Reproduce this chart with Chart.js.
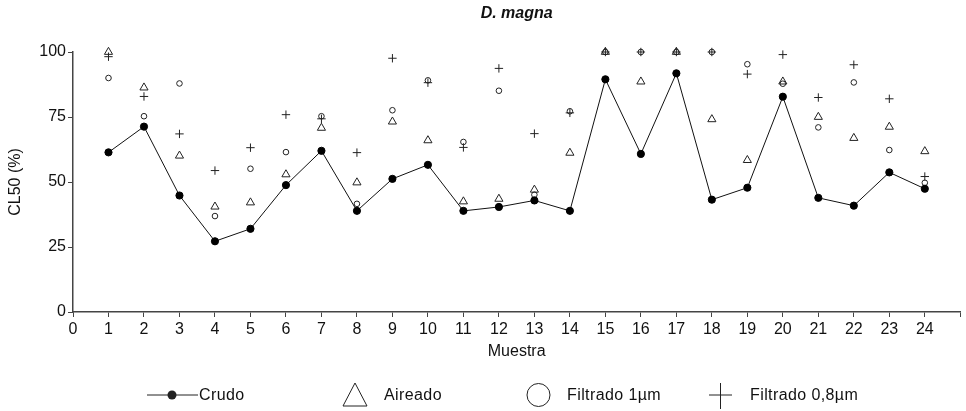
<!DOCTYPE html>
<html>
<head>
<meta charset="utf-8">
<script src="https://cdn.jsdelivr.net/npm/chart.js@4.4.1/dist/chart.umd.min.js"></script>
<style>
  html, body { margin: 0; padding: 0; background: #fff; }
  #wrap { width: 966px; height: 411px; }
</style>
</head>
<body>
<div id="wrap"><canvas id="c" width="966" height="411"></canvas></div>
<script>
// ---- data ----
const muestras   = [1,2,3,4,5,6,7,8,9,10,11,12,13,14,15,16,17,18,19,20,21,22,23,24];
const crudo      = [61.4,71.3,44.8,27.2,32.0,48.8,62.0,38.9,51.2,56.6,38.9,40.4,42.9,38.9,89.5,60.8,91.8,43.2,47.8,82.8,43.9,40.9,53.7,47.4];
const aireado    = [100,86.3,60.1,40.5,42.1,52.9,70.8,49.8,73.2,66.0,42.5,43.5,47.0,61.2,100,88.6,100,74.1,58.4,88.6,75.0,66.9,71.2,61.8];
const filtrado1  = [90.0,75.3,87.9,36.9,55.1,61.5,75.3,41.6,77.6,89.1,65.4,85.1,45.1,77.2,100,100,100,100,95.3,87.8,71.0,88.3,62.3,49.7];
const filtrado08 = [98.2,82.9,68.5,54.4,63.2,75.9,74.3,61.3,97.6,88.2,63.3,93.7,68.6,76.6,100,100,100,100,91.5,99.0,82.5,95.1,82.0,52.1];
const seriesLabels = ['Crudo', 'Aireado', 'Filtrado 1µm', 'Filtrado 0,8µm'];
const yTicks = [0, 25, 50, 75, 100];

const toXY = arr => arr.map((v, i) => ({ x: muestras[i], y: v }));

Chart.defaults.font.family = '"Liberation Sans", Arial, sans-serif';
Chart.defaults.font.size = 16;
Chart.defaults.color = '#111';

const AXIS = '#444';

const refLegend = {
  id: 'refLegend',
  afterDraw(chart) {
    const ctx = chart.ctx;
    const y = 395;
    ctx.save();
    ctx.strokeStyle = '#222';
    ctx.fillStyle = '#222';
    ctx.lineWidth = 1;
    // Crudo: line + filled dot
    ctx.beginPath(); ctx.moveTo(147, y); ctx.lineTo(198, y); ctx.stroke();
    ctx.beginPath(); ctx.arc(172, y, 4.5, 0, Math.PI * 2); ctx.fill();
    // Aireado: big triangle
    ctx.beginPath();
    ctx.moveTo(355, 383); ctx.lineTo(367, 406); ctx.lineTo(343, 406); ctx.closePath(); ctx.stroke();
    // Filtrado 1um: big circle
    ctx.beginPath(); ctx.arc(538.5, y, 11.5, 0, Math.PI * 2); ctx.stroke();
    // Filtrado 0,8um: big plus
    ctx.beginPath();
    ctx.moveTo(709, y); ctx.lineTo(732, y);
    ctx.moveTo(720.5, 383); ctx.lineTo(720.5, 409);
    ctx.stroke();
    // texts
    ctx.fillStyle = '#111';
    ctx.font = '16px "Liberation Sans", Arial, sans-serif';
    if ('letterSpacing' in ctx) ctx.letterSpacing = '0.4px';
    ctx.textAlign = 'left';
    ctx.textBaseline = 'middle';
    const tx = [199, 384, 567, 750];
    chart.data.datasets.forEach((ds, i) => ctx.fillText(ds.label, tx[i], y + 1));
    ctx.restore();
  }
};

new Chart(document.getElementById('c'), {
  type: 'scatter',
  data: {
    datasets: [
      { label: seriesLabels[0], data: toXY(crudo), showLine: true, borderColor: '#111', borderWidth: 1,
        pointStyle: 'circle', pointRadius: 3.6, pointBackgroundColor: '#000', pointBorderColor: '#000', clip: false, order: 0 },
      { label: seriesLabels[1], data: toXY(aireado), showLine: false, pointStyle: 'triangle', pointRadius: 4.7,
        pointBorderWidth: 1, pointBorderColor: '#222', pointBackgroundColor: 'rgba(0,0,0,0)', clip: false, order: 1 },
      { label: seriesLabels[2], data: toXY(filtrado1), showLine: false, pointStyle: 'circle', pointRadius: 2.8,
        pointBorderWidth: 1, pointBorderColor: '#222', pointBackgroundColor: 'rgba(0,0,0,0)', clip: false, order: 2 },
      { label: seriesLabels[3], data: toXY(filtrado08), showLine: false, pointStyle: 'cross', pointRadius: 4.2,
        pointBorderWidth: 1, pointBorderColor: '#222', clip: false, order: 3 }
    ]
  },
  options: {
    responsive: false,
    animation: false,
    events: [],
    layout: { padding: { top: 0, right: 3, bottom: 50, left: 0 } },
    plugins: {
      legend: { display: false },
      tooltip: { enabled: false },
      title: {
        display: true, text: 'D. magna', fullSize: false, color: '#111',
        font: { size: 16, weight: 'bold', style: 'italic', lineHeight: 1.125 },
        padding: { top: 5, bottom: 29 }
      }
    },
    scales: {
      x: {
        type: 'linear', min: 0, max: 25,
        afterFit(s) { s.height = 49; },
        afterBuildTicks(s) { s.ticks = []; for (let i = 0; i <= 25; i++) s.ticks.push({ value: i }); },
        ticks: { stepSize: 1, padding: 3, maxRotation: 0, autoSkip: false,
                 callback: v => (v <= muestras[muestras.length - 1] ? String(v) : '') },
        grid: { drawOnChartArea: false, drawTicks: true, tickLength: 5, color: AXIS, lineWidth: 1 },
        border: { display: true, color: AXIS, width: 1.5 },
        title: { display: true, text: 'Muestra', padding: { top: 0, bottom: 0 }, font: { size: 16 }, color: '#111' }
      },
      y: {
        type: 'linear', min: 0, max: 100,
        afterFit(s) { s.width = 73; },
        afterBuildTicks(s) { s.ticks = yTicks.map(v => ({ value: v })); },
        ticks: { padding: 2 },
        grid: { drawOnChartArea: false, drawTicks: true, tickLength: 5, color: AXIS, lineWidth: 1 },
        border: { display: true, color: AXIS, width: 1.5 },
        title: { display: true, text: 'CL50 (%)', padding: { top: 6, bottom: 0 }, font: { size: 16 }, color: '#111' }
      }
    }
  },
  plugins: [refLegend]
});
</script>
</body>
</html>
